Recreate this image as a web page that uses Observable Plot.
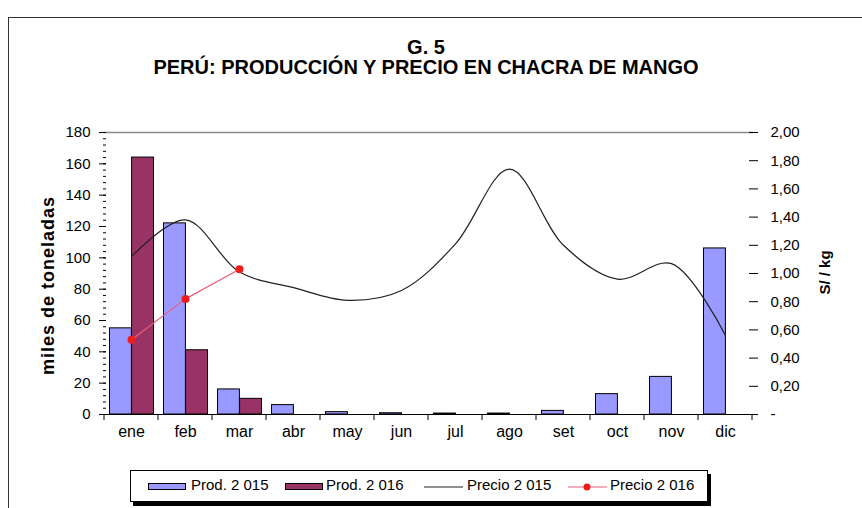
<!DOCTYPE html>
<html>
<head>
<meta charset="utf-8">
<script src="https://cdn.jsdelivr.net/npm/d3@7"></script>
<script src="https://cdn.jsdelivr.net/npm/@observablehq/plot@0.6"></script>
<style>
  body { margin: 0; background: #fff; }
  #wrap { position: relative; width: 862px; height: 508px; overflow: hidden; background: #fff;
          font-family: "Liberation Sans", Arial, sans-serif; color: #000; }
  #frame { position: absolute; left: 8px; top: 17px; width: 900px; height: 600px;
           border-top: 1px solid #333; border-left: 1px solid #333; }
  #title { position: absolute; left: 0; top: 37px; width: 852px; text-align: center;
           font-weight: bold; font-size: 20px; line-height: 20px; }
  #chart { position: absolute; left: 0; top: 110px; }
  #legend { position: absolute; left: 130px; top: 470px; width: 576px; height: 30px;
            border: 1px solid #000; box-shadow: 3px 4px 0 #000; background: #fff; font-size: 15px; }
  .sw { position: absolute; top: 12px; height: 7px; box-sizing: border-box; border: 1px solid #000; }
  .lab { position: absolute; top: 5px; line-height: 17px; white-space: nowrap; }
  .ytitle text { letter-spacing: 1px; }
</style>
</head>
<body>
<div id="wrap">
  <div id="frame"></div>
  <div id="title">G. 5<br>PERÚ: PRODUCCIÓN Y PRECIO EN CHACRA DE MANGO</div>
  <div id="chart"></div>
  <div id="legend"></div>
</div>
<script>
// ---- data ----
const months = ["ene", "feb", "mar", "abr", "may", "jun", "jul", "ago", "set", "oct", "nov", "dic"];
const prod2015 = [55, 122, 16, 6, 1.5, 0.8, 0.6, 0.6, 2.3, 13, 24, 106];      // miles de toneladas
const prod2016 = [164, 41, 10, null, null, null, null, null, null, null, null, null];
const precio2015 = [1.12, 1.38, 1.01, 0.90, 0.81, 0.88, 1.21, 1.74, 1.20, 0.96, 1.07, 0.56]; // S/ / kg
const precio2016 = [0.53, 0.82, 1.03, null, null, null, null, null, null, null, null, null];
const leftTicks = d3.range(0, 181, 20);
const leftMinorTicks = d3.range(0, 181, 4);
const priceTicks = [0, 0.2, 0.4, 0.6, 0.8, 1.0, 1.2, 1.4, 1.6, 1.8, 2.0];
const seriesNames = ["Prod. 2 015", "Prod. 2 016", "Precio 2 015", "Precio 2 016"];
const seriesColors = ["#9999ff", "#993366", "#222222", "#ee1c1c"];

const K = 180 / 2.0; // secondary axis (price) mapped onto primary (production) axis
const rows = months.map((m, i) => ({
  mes: m, p15: prod2015[i], p16: prod2016[i], pr15: precio2015[i], pr16: precio2016[i]
}));
const rows16 = rows.filter(d => d.pr16 != null);
const priceTickPos = priceTicks.map(p => Math.round(p * K));

function xBoundaryTicks(index, scales, values, dimensions) {
  const x = scales.x;
  const bw = x.bandwidth();
  const xs = months.map(m => x(m)).concat([x(months[months.length - 1]) + bw]);
  const y0 = dimensions.height - dimensions.marginBottom;
  const g = d3.create("svg:g").attr("stroke", "#000").attr("stroke-width", 1);
  g.selectAll("line").data(xs).join("line")
    .attr("x1", d => d).attr("x2", d => d).attr("y1", y0).attr("y2", y0 + 6);
  return g.node();
}

const chart = Plot.plot({
  width: 862,
  height: 344,
  marginLeft: 103,
  marginRight: 109,
  marginTop: 22,
  marginBottom: 40,
  style: { fontFamily: "Liberation Sans, Arial, sans-serif", fontSize: "15px", color: "#000",
           background: "transparent", overflow: "visible" },
  x: { type: "band", domain: months, padding: 0 },
  y: { domain: [0, 180] },
  marks: [
    Plot.ruleY([180], { stroke: "#8a8a8a", strokeWidth: 1.5 }),
    Plot.barY(rows.filter(d => d.p15 > 0), { x: "mes", y: "p15", fill: seriesColors[0], stroke: "#000", strokeWidth: 1, insetLeft: 5.5, insetRight: 26.6 }),
    Plot.barY(rows.filter(d => d.p16 > 0), { x: "mes", y: "p16", fill: seriesColors[1], stroke: "#000", strokeWidth: 1, insetLeft: 27.6, insetRight: 4.5 }),
    Plot.line(rows, { x: "mes", y: d => d.pr15 * K, curve: "catmull-rom", stroke: seriesColors[2], strokeWidth: 1.2 }),
    Plot.line(rows16, { x: "mes", y: d => d.pr16 * K, stroke: "#e8607a", strokeWidth: 1.2 }),
    Plot.dot(rows16, { x: "mes", y: d => d.pr16 * K, r: 4, fill: seriesColors[3], stroke: "none" }),
    // left axis
    Plot.axisY(leftTicks, { anchor: "left", tickSize: 4, tickPadding: 9, line: true, label: null, fontSize: 15 }),
    Plot.axisY(leftTicks, { anchor: "left", tickSize: -3, text: null, label: null }),
    Plot.axisY(leftMinorTicks, { anchor: "left", tickSize: -3, text: null, label: null }),
    // right (price) axis
    Plot.axisY(priceTickPos, { anchor: "right", tickSize: 4, tickPadding: 13, line: true, label: null, fontSize: 15,
      tickFormat: v => v === 0 ? "-" : (v / K).toFixed(2).replace(".", ",") }),
    Plot.axisY(priceTickPos, { anchor: "right", tickSize: -5, text: null, label: null }),
    // x axis
    Plot.axisX({ tickSize: 0, tickPadding: 11, label: null, fontSize: 16 }),
    Plot.ruleY([0], { stroke: "#000" }),
    xBoundaryTicks,
    // axis titles
    Plot.text(["miles de toneladas"], { frameAnchor: "left", textAnchor: "middle", dx: -55, dy: 12, rotate: -90, fontWeight: "bold", fontSize: 18, className: "ytitle" }),
    Plot.text(["S/ / kg"], { frameAnchor: "right", textAnchor: "middle", dx: 72, dy: -1, rotate: -90, fontWeight: "bold", fontSize: 15 })
  ]
});
document.getElementById("chart").appendChild(chart);

// ---- legend ----
const legend = document.getElementById("legend");
const legendItems = [
  { kind: "bar", sw: 17, tx: 60 },
  { kind: "bar", sw: 154, tx: 195 },
  { kind: "line", sw: 293, tx: 336 },
  { kind: "linedot", sw: 437, tx: 479 }
];
legendItems.forEach((it, i) => {
  if (it.kind === "bar") {
    const s = document.createElement("div");
    s.className = "sw";
    s.style.left = it.sw + "px";
    s.style.width = "38px";
    s.style.background = seriesColors[i];
    legend.appendChild(s);
  } else {
    const svg = d3.create("svg").attr("width", 40).attr("height", 12)
      .style("position", "absolute").style("left", it.sw + "px").style("top", "10px");
    svg.append("line").attr("x1", 0).attr("x2", 39).attr("y1", 6).attr("y2", 6)
      .attr("stroke", it.kind === "line" ? seriesColors[2] : "#e8607a").attr("stroke-width", 1.2);
    if (it.kind === "linedot") svg.append("circle").attr("cx", 19).attr("cy", 6).attr("r", 3.5).attr("fill", seriesColors[3]);
    legend.appendChild(svg.node());
  }
  const t = document.createElement("div");
  t.className = "lab";
  t.style.left = it.tx + "px";
  t.textContent = seriesNames[i];
  legend.appendChild(t);
});
</script>
</body>
</html>
